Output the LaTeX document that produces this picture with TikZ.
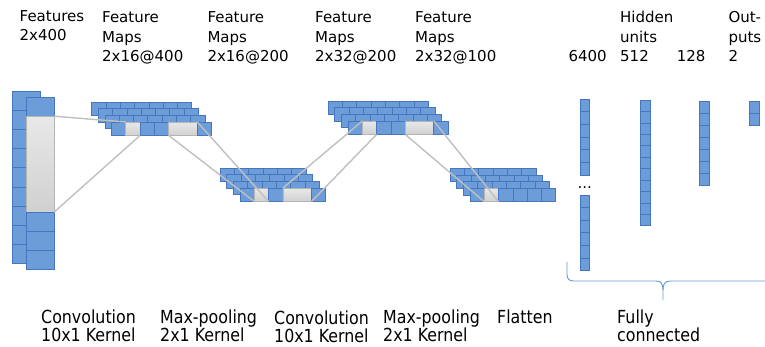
\documentclass[tikz,border=0pt]{standalone}
\usepackage{fontspec}
\setmainfont{DejaVu Sans}
\newfontfamily\narrowfont[FakeStretch=0.88]{DejaVu Sans}
\definecolor{cellfill}{RGB}{108,157,216}
\definecolor{celledge}{RGB}{70,118,192}
\definecolor{greytop}{RGB}{232,232,232}
\definecolor{greybot}{RGB}{208,208,208}
\definecolor{greyedge}{RGB}{180,180,180}
\definecolor{linkgrey}{RGB}{192,192,192}
\definecolor{bracecol}{RGB}{100,155,215}

% three staggered back layers of a feature-map stack
\newcommand\backlayers[4]{%
  \foreach \l in {3,2,1}{%
    \foreach \c in {1,...,#4}{%
      \node[cell] (#1-b\l-\c) at ({#2-\l*6.6+(\c-1)*14.3},{#3-\l*6.7}) {};%
    }%
  }%
}
% front layer: list of name/style/start cell/number of cells
\newcommand\frontlayer[4]{%
  \foreach \k/\s/\o/\w in {#4}{%
    \node[\s,minimum width=\w*14.3pt] (#1-\k) at ({#2+\o*14.3},#3) {};%
  }%
}
% vertical column of fully connected units
\newcommand\fccol[6]{%
  \foreach \i in {1,...,#6}{%
    \node[fcell,minimum width=#4pt,minimum height=#5pt] (#1-\i) at (#2,{#3+(\i-1)*#5}) {};%
  }%
}

\begin{document}
\begin{tikzpicture}[x=1pt,y=-1pt,
  cell/.style={draw=celledge,fill=cellfill,line width=0.7pt,inner sep=0pt,outer sep=0pt,
    anchor=north west,minimum width=14.3pt,minimum height=13.4pt},
  gcell/.style={cell,draw=greyedge,top color=greytop,bottom color=greybot},
  incell/.style={cell,minimum width=28pt,minimum height=19.2pt},
  fcell/.style={cell},
  link/.style={draw=linkgrey,line width=1.4pt},
  toplabel/.style={anchor=base west,inner sep=0pt,font=\fontsize{15}{18}\selectfont},
  botlabel/.style={anchor=base west,inner sep=0pt,font=\narrowfont\fontsize{18}{21}\selectfont}]

\fill[white] (0,0) rectangle (765,346);
\useasboundingbox (0,0) rectangle (765,346);

% input features: two columns of 400 values
\foreach \i in {0,...,8}{\node[incell] (inb-\i) at (12,{91+\i*19.2}) {};}
\node[incell] (inf-0) at (26,97) {};
\node[incell,gcell,minimum width=28pt,minimum height=96pt] (in-g) at (26,116.2) {};
\foreach \i in {6,7,8}{\node[incell] (inf-\i) at (26,{97+\i*19.2}) {};}

% feature map stacks
\backlayers{m1}{111.5}{122}{7}
\frontlayer{m1}{111.5}{122}{0/cell/0/1,1/gcell/1/1,2/cell/2/1,3/cell/3/1,45/gcell/4/2,6/cell/6/1}
\backlayers{m2}{240}{188.1}{6}
\frontlayer{m2}{240}{188.1}{0/cell/0/1,1/gcell/1/1,2/cell/2/1,34/gcell/3/2,5/cell/5/1}
\backlayers{m3}{348}{121}{7}
\frontlayer{m3}{348}{121}{0/cell/0/1,1/gcell/1/1,2/cell/2/1,3/cell/3/1,45/gcell/4/2,6/cell/6/1}
\backlayers{m4}{470}{188.3}{6}
\frontlayer{m4}{470}{188.3}{0/cell/0/1,1/gcell/1/1,2/cell/2/1,3/cell/3/1,4/cell/4/1,5/cell/5/1}

% receptive-field connectors
\draw[link] (in-g.north east) -- (m1-1.north west);
\draw[link] (in-g.south east) -- (m1-1.south east);
\draw[link] (m1-45.south west) -- (m2-1.south west);
\draw[link] (m1-45.north east) -- (m2-1.south east);
\draw[link] (m2-34.north west) -- (m3-1.north west);
\draw[link] (m2-34.south east) -- (m3-1.south east);
\draw[link] (m3-45.south west) -- (m4-1.south west);
\draw[link] (m3-45.north east) -- (m4-1.south east);

% fully connected layers
\fccol{fa}{580}{99}{9.3}{12.67}{6}
\node[toplabel] (dots) at (577.5,188.5) {...};
\fccol{fb}{580}{195}{9.3}{12.6}{6}
\fccol{fc}{640}{100}{10}{11.43}{11}
\fccol{fd}{699.3}{101}{9.7}{12}{7}
\fccol{fe}{749}{101.7}{10}{11.65}{2}

% brace under the fully connected part (its right end runs past the edge)
\draw[bracecol,line width=0.9pt]
  (567,262) -- (567,274) .. controls (567,279) and (569,281) .. (574,281) -- (656,281)
  .. controls (661,281) and (663,284) .. (663,290) -- (663,300);
\draw[bracecol,line width=0.9pt]
  (663,290) .. controls (663,284) and (665,281) .. (670,281) -- (780,281);

% top labels
\node[toplabel] (t1a) at (19.5,21) {Features};
\node[toplabel] (t1b) at (19.5,40) {2x400};
\foreach \n/\x/\d in {t2/102/2x16@400,t3/207.3/2x16@200,t4/315/2x32@200,t5/415/2x32@100}{
  \node[toplabel] (\n a) at (\x,22.5) {Feature};
  \node[toplabel] (\n b) at (\x,42) {Maps};
  \node[toplabel] (\n c) at (\x,61.5) {\d};
}
\node[toplabel] (u1) at (568.3,61.5) {6400};
\node[toplabel] (u2a) at (620,22.5) {Hidden};
\node[toplabel] (u2b) at (620,42) {units};
\node[toplabel] (u2c) at (620,61.5) {512};
\node[toplabel] (u3) at (676.7,61.5) {128};
\node[toplabel] (u4a) at (728.3,22.5) {Out-};
\node[toplabel] (u4b) at (728.3,42) {puts};
\node[toplabel] (u4c) at (728.3,61.5) {2};

% bottom labels
\node[botlabel] (b1a) at (41,323) {Convolution};
\node[botlabel] (b1b) at (41,341.5) {10x1 Kernel};
\node[botlabel] (b2a) at (160,323) {Max-pooling};
\node[botlabel] (b2b) at (160,341.5) {2x1 Kernel};
\node[botlabel] (b3a) at (274,324) {Convolution};
\node[botlabel] (b3b) at (274,342) {10x1 Kernel};
\node[botlabel] (b4a) at (383,323) {Max-pooling};
\node[botlabel] (b4b) at (383,341.5) {2x1 Kernel};
\node[botlabel] (b5) at (497,323) {Flatten};
\node[botlabel] (b6a) at (617,323) {Fully};
\node[botlabel] (b6b) at (617,341.5) {connected};
\end{tikzpicture}
\end{document}
